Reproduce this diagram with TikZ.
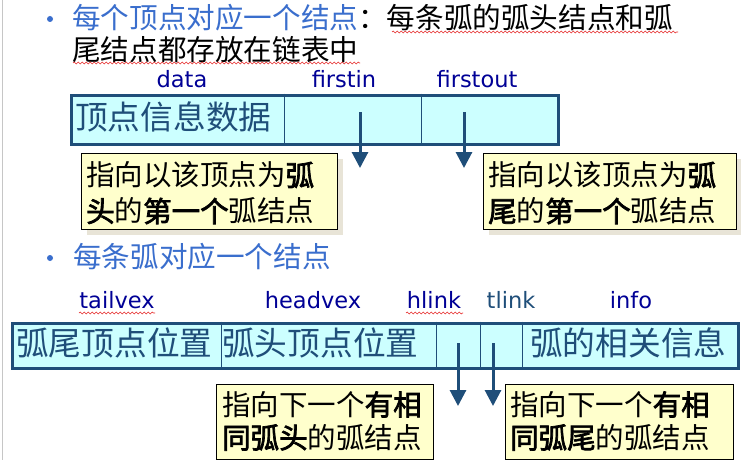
\documentclass[tikz,border=0pt]{standalone}
\usepackage{fontspec}
\setmainfont{DejaVu Sans}
\newfontfamily\cjk[AutoFakeBold=2.5]{Noto Sans CJK SC}
\newfontfamily\lat{DejaVu Sans}
\usetikzlibrary{arrows.meta,decorations.pathmorphing}
\definecolor{titleblue}{RGB}{58,110,205}
\definecolor{boxline}{RGB}{31,78,121}
\definecolor{boxfill}{RGB}{204,255,255}
\definecolor{labelnavy}{RGB}{0,0,150}
\definecolor{notefill}{RGB}{255,255,204}
\definecolor{shadowc}{RGB}{232,228,215}
\definecolor{squigred}{RGB}{230,40,40}
\begin{document}
\begin{tikzpicture}[x=1pt,y=-1pt,
  lbl/.style={font=\lat\fontsize{22.5}{24}\selectfont, text=labelnavy, anchor=base, inner sep=0pt},
  boxtxt/.style={font=\cjk\fontsize{32.7}{34}\selectfont, text=boxline, anchor=west, inner sep=0pt},
  titletxt/.style={font=\cjk\fontsize{28.6}{32}\selectfont, anchor=west, inner sep=0pt},
  rec/.style={draw=boxline, line width=3pt, fill=boxfill, anchor=north west, inner sep=0pt},
  divider/.style={draw=boxline, line width=1pt},
  notebox/.style={draw=black, line width=1pt, fill=notefill, anchor=north west, inner sep=0pt},
  shadowbox/.style={fill=shadowc, anchor=north west, inner sep=0pt},
  notetxt/.style={font=\cjk\fontsize{28.5}{#1}\selectfont, align=left, anchor=west, inner sep=0pt},
  arr/.style={draw=boxline, line width=3pt, -{Triangle[width=16pt,length=16pt]}},
  squig/.style={draw=squigred, line width=0.6pt, decorate, decoration={snake, amplitude=0.9pt, segment length=4pt}},
  bullet/.style={circle, fill=titleblue, minimum size=6pt, inner sep=0pt}
]
\fill[white] (0,0) rectangle (741,460);
\useasboundingbox (0,0) rectangle (741,460);
\draw[gray!45, line width=1pt] (2,0) -- (2,460);

% ---- title ----
\node[bullet] (b1) at (50,19) {};
\node[titletxt] (t1) at (72,18) {{\color{titleblue}每个顶点对应一个结点}：每条弧的弧头结点和弧};
\node[titletxt] (t2) at (72,50) {尾结点都存放在链表中};
\draw[squig] (392,32) -- (678,32);
\draw[squig] (73,63) -- (360,63);

% ---- vertex node ----
\node[lbl] (ldata) at (182,87) {data};
\node[lbl] (lfin) at (344,87) {firstin};
\node[lbl] (lfout) at (477,87) {firstout};
\node[rec, minimum width=487pt, minimum height=49pt] (vbox) at (69.5,93.5) {};
\draw[divider] (284,93.5) -- (284,142.5);
\draw[divider] (421,93.5) -- (421,142.5);
\node[boxtxt] (vdata) at (75,117) {顶点信息数据};

\node[shadowbox, minimum width=256pt, minimum height=76pt] (s1) at (87,159) {};
\node[notebox, minimum width=256pt, minimum height=76pt] (n1) at (81,153) {};
\node[notetxt=36pt] (n1t) at (86,193) {指向以该顶点为\textbf{弧}\\\textbf{头}的\textbf{第一个}弧结点};
\node[shadowbox, minimum width=253pt, minimum height=76pt] (s2) at (489,159) {};
\node[notebox, minimum width=253pt, minimum height=76pt] (n2) at (483,153) {};
\node[notetxt=36pt] (n2t) at (488,193) {指向以该顶点为\textbf{弧}\\\textbf{尾}的\textbf{第一个}弧结点};

\coordinate (a1s) at (360,112); \coordinate (a1e) at (360,168);
\coordinate (a2s) at (464,112); \coordinate (a2e) at (464,168);
\draw[arr] (a1s) -- (a1e);
\draw[arr] (a2s) -- (a2e);

% ---- arc node ----
\node[bullet] (b2) at (50,258) {};
\node[titletxt, text=titleblue] (t3) at (73,257) {每条弧对应一个结点};

\node[lbl] (ltail) at (117,308) {tailvex};
\node[lbl] (lhead) at (313,308) {headvex};
\node[lbl] (lhl) at (434,308) {hlink};
\node[lbl, text=boxline] (ltl) at (511,308) {tlink};
\node[lbl] (linfo) at (631,308) {info};
\draw[squig] (79,313) -- (155,313);
\draw[squig] (406,313) -- (463,313);

\node[rec, minimum width=726pt, minimum height=45pt] (ebox) at (10.5,321.5) {};
\draw[divider] (221,321.5) -- (221,366.5);
\draw[divider] (436,321.5) -- (436,366.5);
\draw[divider] (480,321.5) -- (480,366.5);
\draw[divider] (522,321.5) -- (522,366.5);
\node[boxtxt] (etail) at (16,343) {弧尾顶点位置};
\node[boxtxt] (ehead) at (222,343) {弧头顶点位置};
\node[boxtxt] (einfo) at (530,343) {弧的相关信息};

\node[notebox, minimum width=217pt, minimum height=75pt] (n3) at (216,384) {};
\node[notetxt=33pt] (n3t) at (222,421) {指向下一个\textbf{有相}\\\textbf{同弧头}的弧结点};
\node[notebox, minimum width=228pt, minimum height=75pt] (n4) at (505,384) {};
\node[notetxt=33pt] (n4t) at (510,421) {指向下一个\textbf{有相}\\\textbf{同弧尾}的弧结点};

\coordinate (a3s) at (458,343); \coordinate (a3e) at (458,406);
\coordinate (a4s) at (493,343); \coordinate (a4e) at (493,406);
\draw[arr] (a3s) -- (a3e);
\draw[arr] (a4s) -- (a4e);
\end{tikzpicture}
\end{document}
